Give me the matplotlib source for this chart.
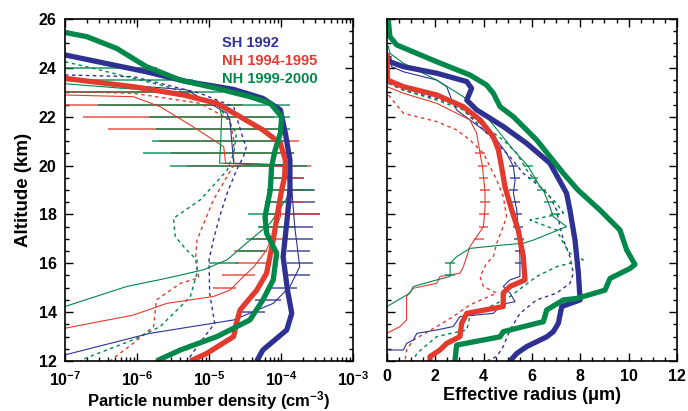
import matplotlib
matplotlib.use("Agg")
import matplotlib.pyplot as plt
from matplotlib.ticker import MultipleLocator, LogLocator, NullFormatter

plt.rcParams["font.family"] = "Liberation Sans"
plt.rcParams["font.weight"] = "bold"
plt.rcParams["mathtext.fontset"] = "custom"
plt.rcParams["mathtext.rm"] = "Liberation Sans:bold"
plt.rcParams["mathtext.it"] = "Liberation Sans:bold"
plt.rcParams["mathtext.bf"] = "Liberation Sans:bold"

BLUE = "#2e3192"
RED = "#e23b2e"
GREEN = "#00874a"

# ---------------- left panel: number density (cm-3) ----------------
# thick = median profiles
alt_sh_n = [24.53, 23.84, 23.44, 23.12, 22.75, 22.28, 21.32, 20.23, 19.0, 17.64, 16.27, 14.9, 13.95, 13.27, 12.45, 12.0]
n_sh = [1.0e-7, 1.35e-6, 4.9e-6, 2.19e-5, 5.6e-5, 9.8e-5, 1.15e-4, 1.33e-4, 1.33e-4, 1.2e-4, 1.07e-4, 1.23e-4, 1.41e-4, 1.2e-4, 5.6e-5, 4.6e-5]
alt_nh94_n = [23.57, 23.23, 22.89, 22.55, 22.0, 21.46, 20.91, 20.23, 19.68, 19.0, 18.18, 16.95, 15.59, 14.9, 14.09, 13.55, 13.0, 12.31, 12.0]
n_nh94 = [1.0e-7, 8.9e-7, 4.4e-6, 1.29e-5, 2.7e-5, 5.6e-5, 9.8e-5, 1.15e-4, 1.15e-4, 1.02e-4, 9.1e-5, 7.8e-5, 6.3e-5, 4.6e-5, 2.7e-5, 2.4e-5, 2.2e-5, 9.3e-6, 5.5e-6]
alt_nh99_n = [25.45, 25.28, 24.8, 24.05, 23.5, 23.16, 22.82, 22.55, 22.0, 21.32, 20.64, 19.96, 19.0, 17.91, 17.23, 16.41, 15.32, 14.5, 13.68, 13.0, 12.45, 12.0]
n_nh99 = [1.0e-7, 2.0e-7, 5.2e-7, 1.35e-6, 4.0e-6, 1.29e-5, 3.7e-5, 7.1e-5, 1.02e-4, 9.8e-5, 8.3e-5, 7.4e-5, 7.1e-5, 6.0e-5, 6.3e-5, 8.7e-5, 7.8e-5, 5.6e-5, 3.7e-5, 1.29e-5, 4.0e-6, 1.86e-6]

# thin = single profiles
alt_sh_n2 = [23.5, 23.1, 22.14, 21.87, 20.1, 20.02, 17.5, 15.86, 15.05, 14.36, 13.68, 13.13, 12.25]
n_sh2 = [1e-7, 4.9e-6, 1.78e-5, 1.95e-5, 2.2e-5, 1.33e-4, 1.55e-4, 1.82e-4, 1.33e-4, 7.8e-5, 2.2e-5, 1.5e-6, 1e-7]
alt_nh94_n2 = [22.89, 22.82, 22.41, 21.59, 21.05, 20.77, 20.1, 19.96, 17.91, 16.54, 15.86, 15.32, 14.9, 14.64, 14.36, 13.88, 13.34]
n_nh94_2 = [1e-7, 8.9e-7, 2.1e-6, 6.0e-6, 1.15e-5, 1.6e-5, 1.7e-5, 1.07e-4, 9.8e-5, 6.3e-5, 4.2e-5, 2.7e-5, 1.95e-5, 1.15e-5, 2.6e-6, 8.9e-7, 1e-7]
alt_nh99_n2 = [23.35, 22.96, 22.41, 22.0, 20.91, 20.1, 20.02, 18.86, 17.64, 16.82, 16.14, 15.73, 15.39, 15.05, 14.23]
n_nh99_2 = [1e-7, 4.9e-6, 1.4e-5, 1.5e-5, 1.45e-5, 1.4e-5, 1.2e-4, 1.33e-4, 7.1e-5, 3.3e-5, 1.78e-5, 8.3e-6, 2.6e-6, 7.2e-7, 1e-7]

# dotted = second set of profiles
alt_sh_n3 = [23.71, 23.64, 22.96, 22.41, 21.05, 20.77, 20.36, 19.8, 18.86, 17.9, 16.95, 16.14, 14.78, 13.54, 12.59, 12.0]
n_sh3 = [1e-7, 8.9e-7, 7.5e-6, 2.2e-5, 3.0e-5, 3.3e-5, 3.0e-5, 2.4e-5, 1.78e-5, 1.4e-5, 1.15e-5, 1.0e-5, 1.02e-5, 1.2e-5, 6.8e-6, 5.0e-6]
alt_nh94_n3 = [23.03, 22.96, 22.55, 21.87, 21.05, 20.02, 18.59, 16.95, 16.14, 15.4, 15.18, 14.5, 13.41, 12.73, 12.0]
n_nh94_3 = [1e-7, 8.9e-7, 7.5e-6, 1.95e-5, 2.2e-5, 2.2e-5, 1.15e-5, 6.8e-6, 6.5e-6, 7.2e-6, 4.0e-6, 1.86e-6, 1.7e-6, 8.9e-7, 4.2e-7]
alt_nh99_n3 = [24.25, 23.91, 23.23, 22.55, 21.32, 20.5, 19.8, 18.59, 17.84, 17.09, 16.54, 16.14, 15.6, 14.63, 13.41, 12.87, 12.18, 12.0]
n_nh99_3 = [1e-7, 3.1e-7, 2.6e-6, 1.29e-5, 2.4e-5, 2.2e-5, 1.78e-5, 7.5e-6, 3.2e-6, 3.4e-6, 4.9e-6, 6.8e-6, 6.8e-6, 5.5e-6, 2.1e-6, 8.9e-7, 2.2e-7, 1.6e-7]

# horizontal variability bars
bar_sh_alt = [14.0, 14.5, 15.0, 15.5, 16.0, 16.5, 17.0, 17.5, 18.0, 18.5, 19.0, 19.5]
bar_sh_lo = [2.7e-5, 4.4e-5, 7.1e-5, 1.1e-4, 1.2e-4, 1.2e-4, 1.15e-4, 1.2e-4, 1.2e-4, 1.2e-4, 1.3e-4, 1.33e-4]
bar_sh_hi = [6.0e-5, 1.0e-4, 1.66e-4, 2.5e-4, 2.8e-4, 2.5e-4, 2.8e-4, 2.8e-4, 3.5e-4, 3.0e-4, 3.0e-4, 2.1e-4]
bar_nh94_alt = [15.0, 15.5, 16.0, 16.5, 17.0, 17.5, 18.0, 18.5, 19.0, 19.5, 20.0, 20.5, 21.0, 21.5, 22.0, 22.5, 23.0]
bar_nh94_lo = [1.15e-5, 1.5e-5, 2.4e-5, 2.2e-5, 4e-5, 5e-5, 6.3e-5, 6e-5, 6.3e-5, 7e-5, 5e-6, 3e-6, 2e-6, 4e-7, 1.8e-7, 1e-8, 1e-8]
bar_nh94_hi = [2.4e-5, 4.4e-5, 6.3e-5, 6.3e-5, 1.2e-4, 1.5e-4, 3.5e-4, 2e-4, 2.2e-4, 2e-4, 2.6e-4, 1.5e-4, 1.8e-4, 1.0e-4, 8e-5, 3e-5, 6e-6]
bar_nh99_alt = [16.0, 16.5, 17.0, 17.5, 18.0, 18.5, 19.0, 19.5, 20.0, 20.5, 21.0, 21.5, 22.0, 22.5, 23.0, 23.5, 24.0]
bar_nh99_lo = [1.0e-5, 2.5e-5, 3.3e-5, 4.8e-5, 3.5e-5, 6e-5, 6.3e-5, 7.8e-5, 2.9e-6, 1.23e-6, 1.6e-6, 1.86e-6, 1.45e-6, 2.9e-7, 1e-8, 1e-8, 1e-8]
bar_nh99_hi = [2.5e-5, 6e-5, 7e-5, 1.6e-4, 1.0e-4, 1.2e-4, 2.8e-4, 1.33e-4, 2.3e-4, 1.5e-4, 1.33e-4, 1.33e-4, 1.33e-4, 1.33e-4, 1.5e-5, 6e-6, 1.9e-6]

# ---------------- right panel: effective radius (um) ----------------
alt_sh_r = [24.46, 24.25, 24.05, 23.78, 23.44, 23.16, 22.68, 22.28, 21.6, 20.91, 20.1, 18.87, 18.18, 16.95, 15.59, 14.5, 14.23, 13.54, 13.2, 12.99, 12.59, 12.31, 12.0]
r_sh = [0.05, 0.12, 0.68, 2.06, 3.3, 3.5, 3.3, 3.71, 4.81, 5.78, 6.74, 7.43, 7.57, 7.78, 7.92, 7.99, 7.23, 7.09, 6.88, 6.61, 5.78, 5.37, 5.09]
alt_nh94_r = [24.6, 23.5, 23.23, 22.89, 22.41, 21.87, 21.18, 20.64, 19.96, 19.14, 18.18, 17.36, 16.27, 15.32, 15.05, 14.78, 14.23, 13.95, 13.54, 13.0, 12.72, 12.45, 12.18, 12.0]
r_nh94 = [0.0, 0.02, 0.68, 2.06, 3.16, 3.85, 4.4, 4.61, 4.74, 4.88, 5.16, 5.43, 5.64, 5.71, 5.09, 4.81, 4.81, 3.3, 3.09, 3.02, 2.47, 2.19, 1.78, 1.78]
alt_nh99_r = [26.0, 25.28, 24.94, 24.25, 23.71, 23.3, 22.96, 22.41, 22.0, 21.05, 19.68, 19.0, 18.18, 17.36, 16.54, 15.95, 15.79, 15.38, 14.9, 14.56, 14.5, 14.09, 13.61, 13.2, 12.99, 12.65, 12.0]
r_nh99 = [0.05, 0.12, 0.4, 2.06, 3.43, 4.12, 4.4, 4.68, 5.23, 6.19, 7.3, 7.9, 8.81, 9.64, 9.92, 10.26, 10.06, 9.23, 9.02, 7.85, 7.3, 6.61, 6.47, 4.81, 4.68, 2.88, 2.81]

alt_sh_r2 = [24.6, 24.05, 23.84, 23.5, 23.23, 22.68, 22.28, 21.87, 21.46, 21.05, 20.5, 19.96, 19.41, 18.87, 18.18, 17.36, 16.27, 15.46, 15.32, 15.05, 14.78, 14.43, 14.36, 14.09, 13.95, 13.82, 13.41, 13.27, 13.13, 12.86, 12.72, 12.45, 12.45]
r_sh2 = [0.06, 0.19, 0.68, 2.06, 2.47, 2.68, 2.88, 3.43, 3.99, 4.54, 4.95, 5.23, 5.3, 5.23, 5.37, 5.43, 5.5, 5.5, 5.09, 4.81, 5.09, 5.3, 4.95, 4.54, 4.4, 3.02, 2.74, 2.06, 1.23, 1.09, 0.81, 0.68, 0.0]
alt_nh94_r2 = [23.23, 22.96, 22.55, 21.87, 21.32, 20.5, 19.96, 19.0, 18.32, 17.5, 17.09, 16.68, 16.27, 15.86, 15.59, 15.46, 15.18, 14.98, 14.64, 13.68, 13.41, 13.2, 13.13]
r_nh94_2 = [0.01, 0.68, 2.06, 3.43, 3.71, 3.85, 3.95, 4.05, 4.06, 3.99, 3.71, 3.43, 3.3, 3.16, 3.02, 2.19, 2.06, 1.09, 0.81, 0.81, 0.54, 0.12, 0.0]
alt_nh99_r2 = [24.87, 24.6, 24.19, 23.5, 22.82, 22.0, 21.32, 20.64, 19.96, 19.14, 19.0, 18.32, 17.91, 17.5, 16.95, 16.82, 16.75, 16.61, 16.27, 16.0, 15.46, 15.32, 15.05, 14.78, 14.3, 14.23]
r_nh99_2 = [0.06, 0.12, 0.68, 2.06, 3.16, 4.12, 4.68, 5.23, 5.85, 6.33, 6.47, 6.74, 6.88, 7.43, 6.06, 5.64, 4.81, 3.43, 2.88, 2.61, 2.61, 2.06, 1.09, 0.95, 0.12, 0.0]

alt_sh_r3 = [23.37, 23.09, 22.75, 22.41, 21.6, 20.91, 20.36, 19.68, 19.14, 18.73, 18.18, 17.5, 16.95, 16.27, 15.59, 15.18, 14.78, 14.5, 13.95, 13.27, 12.59, 12.18, 12.0]
r_sh3 = [0.06, 0.68, 2.06, 3.02, 3.85, 4.54, 5.09, 5.64, 6.33, 6.74, 7.02, 7.16, 7.3, 7.57, 7.71, 7.57, 7.02, 6.19, 5.5, 5.09, 4.81, 4.54, 4.12]
alt_nh94_r3 = [22.89, 22.14, 21.8, 21.46, 21.05, 20.5, 19.96, 19.41, 18.73, 17.91, 17.5, 16.82, 16.27, 16.0, 15.46, 15.05, 14.78, 14.3, 13.82, 13.41, 12.86, 12.45, 12.0]
r_nh94_3 = [0.06, 0.68, 2.06, 2.88, 3.43, 3.99, 4.26, 4.54, 4.81, 4.95, 4.81, 4.54, 4.4, 4.12, 3.85, 3.99, 4.54, 3.43, 2.74, 2.06, 1.09, 0.81, 0.74]
alt_nh99_r3 = [23.37, 23.09, 22.68, 22.28, 21.73, 21.05, 20.5, 19.82, 19.14, 18.45, 18.05, 17.77, 17.36, 16.82, 16.41, 16.14, 15.86, 15.46, 15.05, 14.64, 14.36, 13.82, 13.27, 13.0, 12.31, 12.0]
r_nh99_3 = [0.06, 0.68, 2.06, 3.16, 3.85, 4.81, 5.37, 5.78, 6.33, 7.02, 7.3, 5.92, 7.02, 7.3, 7.57, 8.12, 7.02, 6.19, 5.64, 5.09, 4.54, 3.43, 3.3, 2.06, 1.23, 1.09]

# small error crosses on the single profiles
eb_nh94_alt = [20.5, 20.0, 19.5, 19.0, 18.5, 18.0, 17.5, 17.0]
eb_nh94_r = [3.85, 3.95, 4.0, 4.05, 4.06, 4.02, 3.99, 3.8]
eb_sh_alt = [20.0, 19.5, 19.0, 18.5, 18.0, 17.5, 17.0, 16.5, 16.0]
eb_sh_r = [5.23, 5.3, 5.23, 5.3, 5.37, 5.43, 5.45, 5.5, 5.5]
eb_nh99_alt = [20.0, 19.5, 19.0, 18.5, 18.0, 16.0, 15.5]
eb_nh99_r = [5.85, 6.05, 6.4, 6.7, 6.95, 2.61, 2.61]

labels = ["SH 1992", "NH 1994-1995", "NH 1999-2000"]
colors = [BLUE, RED, GREEN]

fig = plt.figure(figsize=(6.88, 4.11), dpi=100)
ax1 = fig.add_axes([0.0945, 0.1217, 0.4186, 0.832])
ax2 = fig.add_axes([0.5625, 0.1217, 0.4215, 0.832])

thick, thin, dot = 3.8, 0.8, 1.0
dash = (0, (2.5, 2.5))

# left panel
for alt, lo, hi, c in [(bar_sh_alt, bar_sh_lo, bar_sh_hi, BLUE),
                       (bar_nh94_alt, bar_nh94_lo, bar_nh94_hi, RED),
                       (bar_nh99_alt, bar_nh99_lo, bar_nh99_hi, GREEN)]:
    ax1.hlines(alt, lo, hi, color=c, lw=1.2, alpha=0.8)
for x, y, c in [(n_sh3, alt_sh_n3, BLUE), (n_nh94_3, alt_nh94_n3, RED), (n_nh99_3, alt_nh99_n3, GREEN)]:
    ax1.plot(x, y, color=c, lw=dot, ls=dash)
for x, y, c in [(n_sh2, alt_sh_n2, BLUE), (n_nh94_2, alt_nh94_n2, RED), (n_nh99_2, alt_nh99_n2, GREEN)]:
    ax1.plot(x, y, color=c, lw=thin)
for x, y, c in [(n_sh, alt_sh_n, BLUE), (n_nh94, alt_nh94_n, RED), (n_nh99, alt_nh99_n, GREEN)]:
    ax1.plot(x, y, color=c, lw=thick, solid_capstyle="butt", solid_joinstyle="round")

ax1.set_xscale("log")
ax1.set_xlim(1e-7, 1e-3)
ax1.set_ylim(12, 26)
ax1.xaxis.set_major_locator(LogLocator(base=10, numticks=10))
ax1.xaxis.set_minor_locator(LogLocator(base=10, subs=range(2, 10), numticks=50))
ax1.xaxis.set_minor_formatter(NullFormatter())
ax1.set_xlabel("Particle number density (cm$^{-3}$)", fontsize=12, fontweight="bold", labelpad=0)
ax1.set_ylabel("Altitude (km)", fontsize=13.5, fontweight="bold", labelpad=5)

for i, (lab, c) in enumerate(zip(labels, colors)):
    ax1.text(0.545, 0.93 - i * 0.053, lab, color=c, fontsize=10.5, fontweight="bold",
             transform=ax1.transAxes, va="center")

# right panel
for x, y, c in [(r_sh3, alt_sh_r3, BLUE), (r_nh94_3, alt_nh94_r3, RED), (r_nh99_3, alt_nh99_r3, GREEN)]:
    ax2.plot(x, y, color=c, lw=dot, ls=dash)
for x, y, c in [(r_sh2, alt_sh_r2, BLUE), (r_nh94_2, alt_nh94_r2, RED), (r_nh99_2, alt_nh99_r2, GREEN)]:
    ax2.plot(x, y, color=c, lw=thin)
for x, y, c in [(eb_sh_r, eb_sh_alt, BLUE), (eb_nh94_r, eb_nh94_alt, RED), (eb_nh99_r, eb_nh99_alt, GREEN)]:
    ax2.errorbar(x, y, xerr=0.2, fmt="none", ecolor=c, elinewidth=1.1, capsize=0, alpha=0.85)
for x, y, c in [(r_sh, alt_sh_r, BLUE), (r_nh94, alt_nh94_r, RED), (r_nh99, alt_nh99_r, GREEN)]:
    ax2.plot(x, y, color=c, lw=thick, solid_capstyle="butt", solid_joinstyle="round")

ax2.set_xlim(0, 12)
ax2.set_ylim(12, 26)
ax2.xaxis.set_major_locator(MultipleLocator(2))
ax2.xaxis.set_minor_locator(MultipleLocator(0.5))
ax2.set_yticklabels([])
ax2.set_xlabel("Effective radius (\u03bcm)", fontsize=13, fontweight="bold", labelpad=2)

for ax in (ax1, ax2):
    ax.yaxis.set_major_locator(MultipleLocator(2))
    ax.yaxis.set_minor_locator(MultipleLocator(0.5))
    ax.tick_params(which="both", direction="in", top=True, right=True, width=1.0)
    ax.tick_params(which="major", length=6, labelsize=11.5, pad=6)
    ax.tick_params(which="minor", length=3)
    for sp in ax.spines.values():
        sp.set_linewidth(1.2)
ax1.tick_params(axis="x", which="major", labelsize=11.5, pad=7)
ax2.tick_params(labelleft=False)

fig.savefig("out.png", dpi=100)
